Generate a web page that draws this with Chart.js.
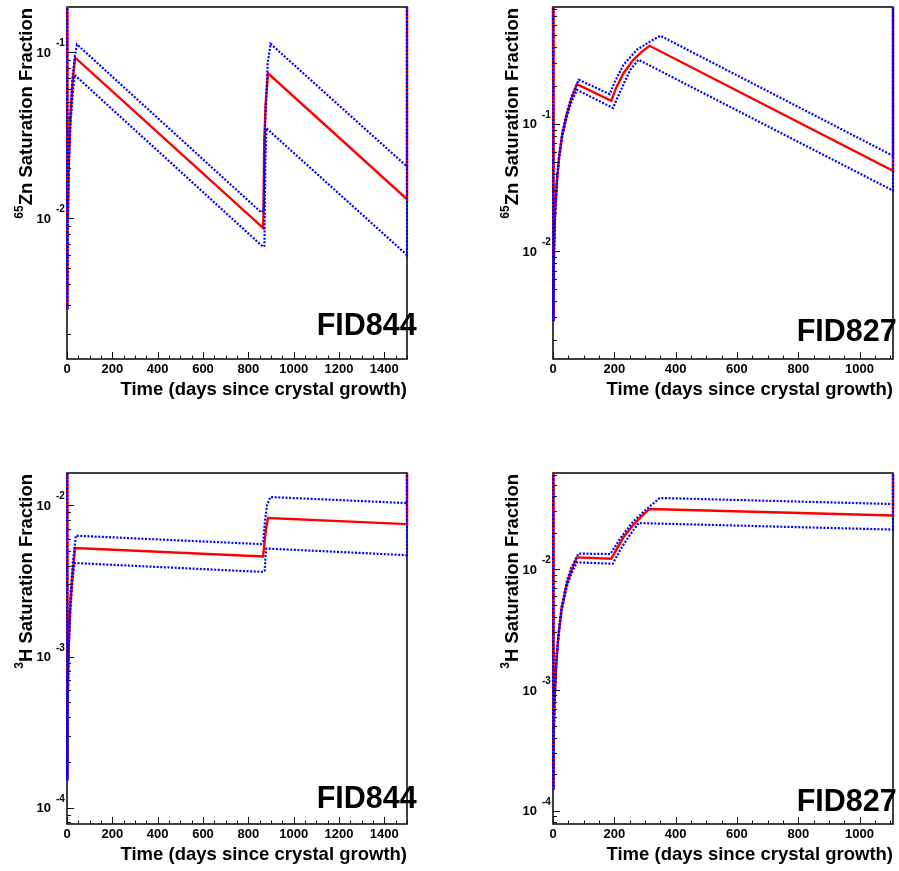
<!DOCTYPE html>
<html><head><meta charset="utf-8">
<script src="https://cdn.jsdelivr.net/npm/chart.js@4.4.1/dist/chart.umd.min.js"></script>
<style>
html,body{margin:0;padding:0;background:#fff;}
#wrap{position:relative;width:899px;height:871px;overflow:hidden;background:#fff;}
canvas{position:absolute;}
</style></head><body><div id="wrap">
<canvas id="c1" width="450" height="435" style="left:0px;top:0px"></canvas>
<canvas id="c2" width="449" height="435" style="left:450px;top:0px"></canvas>
<canvas id="c3" width="450" height="436" style="left:0px;top:435px"></canvas>
<canvas id="c4" width="449" height="436" style="left:450px;top:435px"></canvas>
</div>
<script>
// ---------- tick labels ----------
const xTicksFID844 = [0, 200, 400, 600, 800, 1000, 1200, 1400];
const xTicksFID827 = [0, 200, 400, 600, 800, 1000];
const yDecadesZn = [-2, -1];
const yDecadesH3 = [-4, -3, -2];

// ---------- FID844, 65Zn ----------
const fid844ZnDays      = [0, 1, 3, 8, 15, 25, 36, 866, 870, 876, 887, 1500, 1500];
const fid844ZnFraction  = [1, 0.0028, 0.0085, 0.022, 0.040, 0.066, 0.0924, 0.0087, 0.028, 0.048, 0.0744, 0.01297, 1];
const fid844ZnUpperDays = [0, 1, 3, 8, 15, 25, 35, 44, 857, 868, 872, 885, 898, 1500, 1500];
const fid844ZnUpper     = [1, 0.0028, 0.0088, 0.024, 0.044, 0.072, 0.095, 0.111, 0.0108, 0.0112, 0.030, 0.085, 0.112, 0.0204, 1];
const fid844ZnLowerDays = [0, 1, 3, 8, 15, 25, 34, 865, 871, 875, 880, 1500, 1500];
const fid844ZnLower     = [1, 0.0028, 0.0075, 0.019, 0.036, 0.055, 0.0726, 0.0067, 0.0068, 0.022, 0.0347, 0.00598, 1];

// ---------- FID827, 65Zn ----------
const fid827ZnDays      = [0, 1, 3, 7, 13, 20, 30, 45, 60, 78, 190, 205, 230, 260, 290, 315, 1109, 1109];
const fid827ZnFraction  = [1, 0.0028, 0.0085, 0.020, 0.036, 0.055, 0.082, 0.118, 0.157, 0.2054, 0.1517, 0.19, 0.25, 0.315, 0.37, 0.411, 0.0426, 1];
const fid827ZnUpperDays = [0, 1, 3, 7, 13, 20, 30, 45, 60, 84, 185, 200, 230, 274, 317, 350, 1109, 1109];
const fid827ZnUpper     = [1, 0.0028, 0.0086, 0.021, 0.037, 0.057, 0.085, 0.123, 0.163, 0.222, 0.171, 0.21, 0.292, 0.383, 0.445, 0.493, 0.056, 1];
const fid827ZnLowerDays = [0, 1, 3, 7, 13, 20, 30, 45, 60, 78, 196, 210, 230, 252, 279, 1109, 1109];
const fid827ZnLower     = [1, 0.0028, 0.0084, 0.020, 0.035, 0.053, 0.079, 0.113, 0.148, 0.185, 0.133, 0.16, 0.205, 0.266, 0.319, 0.0298, 1];

// ---------- FID844, 3H ----------
const fid844H3Days      = [0, 1, 3, 8, 15, 25, 36, 865, 870, 878, 887, 1500, 1500];
const fid844H3Fraction  = [1, 1.55e-4, 4.6e-4, 1.2e-3, 2.2e-3, 3.6e-3, 5.23e-3, 4.59e-3, 5.4e-3, 7.0e-3, 8.26e-3, 7.53e-3, 1];
const fid844H3UpperDays = [0, 1, 3, 8, 15, 25, 39, 856, 866, 872, 882, 897, 1500, 1500];
const fid844H3Upper     = [1, 1.5e-4, 4.8e-4, 1.3e-3, 2.5e-3, 4.1e-3, 6.31e-3, 5.55e-3, 5.8e-3, 7.5e-3, 1.0e-2, 1.137e-2, 1.037e-2, 1];
const fid844H3LowerDays = [0, 1, 3, 8, 15, 25, 33, 867, 872, 876, 880, 1500, 1500];
const fid844H3Lower     = [1, 1.5e-4, 4.4e-4, 1.15e-3, 2.1e-3, 3.3e-3, 4.16e-3, 3.63e-3, 3.7e-3, 4.6e-3, 5.19e-3, 4.69e-3, 1];

// ---------- FID827, 3H ----------
const fid827H3Days      = [0, 1, 3, 6, 11, 18, 28, 45, 60, 78, 190, 230, 260, 290, 315, 1109, 1109];
const fid827H3Fraction  = [1, 1.5e-4, 4.6e-4, 9.3e-4, 1.7e-3, 2.85e-3, 4.7e-3, 7.5e-3, 9.7e-3, 1.248e-2, 1.217e-2, 1.83e-2, 2.29e-2, 2.75e-2, 3.14e-2, 2.77e-2, 1];
const fid827H3UpperDays = [0, 1, 3, 6, 11, 18, 28, 45, 60, 83, 187, 220, 260, 300, 348, 1109, 1109];
const fid827H3Upper     = [1, 1.5e-4, 4.7e-4, 9.5e-4, 1.75e-3, 2.95e-3, 4.9e-3, 7.9e-3, 1.03e-2, 1.341e-2, 1.33e-2, 1.8e-2, 2.45e-2, 3.05e-2, 3.87e-2, 3.45e-2, 1];
const fid827H3LowerDays = [0, 1, 3, 6, 11, 18, 28, 45, 60, 78, 195, 220, 250, 279, 1109, 1109];
const fid827H3Lower     = [1, 1.5e-4, 4.5e-4, 9.1e-4, 1.65e-3, 2.75e-3, 4.5e-3, 7.1e-3, 9.2e-3, 1.136e-2, 1.106e-2, 1.45e-2, 1.9e-2, 2.4e-2, 2.12e-2, 1];

// ---------- panel layout ----------
const FONT = "'Liberation Sans', Arial, Helvetica, sans-serif";
const panels = [
  { id: 'c1', sup: '65', title: 'Zn Saturation Fraction', label: 'FID844', xMax: 1500, yMin: 1.415e-3, yMax: 0.1866,
    xTicks: xTicksFID844, decades: yDecadesZn, pad: { left: 67, top: 7, right: 43, bottom: 76 }, labelPos: [416.7, 335],
    series: [[fid844ZnDays, fid844ZnFraction], [fid844ZnUpperDays, fid844ZnUpper], [fid844ZnLowerDays, fid844ZnLower]] },
  { id: 'c2', sup: '65', title: 'Zn Saturation Fraction', label: 'FID827', xMax: 1109, yMin: 1.41e-3, yMax: 0.83,
    xTicks: xTicksFID827, decades: yDecadesZn, pad: { left: 103, top: 7, right: 6, bottom: 76 }, labelPos: [446.7, 340.7],
    series: [[fid827ZnDays, fid827ZnFraction], [fid827ZnUpperDays, fid827ZnUpper], [fid827ZnLowerDays, fid827ZnLower]] },
  { id: 'c3', sup: '3', title: 'H Saturation Fraction', label: 'FID844', xMax: 1500, yMin: 7.8e-5, yMax: 0.0164,
    xTicks: xTicksFID844, decades: yDecadesH3, pad: { left: 67, top: 38, right: 43, bottom: 47 }, labelPos: [416.7, 372.7],
    series: [[fid844H3Days, fid844H3Fraction], [fid844H3UpperDays, fid844H3Upper], [fid844H3LowerDays, fid844H3Lower]] },
  { id: 'c4', sup: '3', title: 'H Saturation Fraction', label: 'FID827', xMax: 1109, yMin: 7.76e-5, yMax: 0.0623,
    xTicks: xTicksFID827, decades: yDecadesH3, pad: { left: 103, top: 38, right: 6, bottom: 47 }, labelPos: [446.7, 376],
    series: [[fid827H3Days, fid827H3Fraction], [fid827H3UpperDays, fid827H3Upper], [fid827H3LowerDays, fid827H3Lower]] }
];

const framePlugin = {
  id: 'frame',
  beforeDatasetsDraw(chart) {
    const { ctx, chartArea: a } = chart;
    ctx.save();
    ctx.strokeStyle = '#111';
    ctx.lineWidth = 1.6;
    ctx.strokeRect(a.left, a.top, a.right - a.left, a.bottom - a.top);
    ctx.restore();
  }
};

const decorPlugin = {
  id: 'decor',
  afterDraw(chart) {
    const p = chart.options.plugins.decor.panel;
    const { ctx, chartArea: a, scales: { x, y } } = chart;
    ctx.save();
    ctx.strokeStyle = '#111';
    ctx.lineWidth = 1;
    ctx.beginPath();
    for (let v = 0; v <= p.xMax + 1e-9; v += 50) {
      const px = Math.round(x.getPixelForValue(v)) + 0.5;
      const len = (v % 200 === 0) ? 7 : 3.5;
      ctx.moveTo(px, a.bottom);
      ctx.lineTo(px, a.bottom - len);
    }
    const d0 = Math.floor(Math.log10(p.yMin)), d1 = Math.ceil(Math.log10(p.yMax));
    for (let d = d0; d <= d1; d++) {
      for (let m = 1; m <= 9; m++) {
        const v = m * Math.pow(10, d);
        if (v < p.yMin || v > p.yMax) continue;
        const py = Math.round(y.getPixelForValue(v)) + 0.5;
        const len = m === 1 ? 7 : 4;
        ctx.moveTo(a.left, py);
        ctx.lineTo(a.left + len, py);
      }
    }
    ctx.stroke();

    ctx.fillStyle = '#000';
    ctx.font = 'bold 13px ' + FONT;
    ctx.textAlign = 'center';
    ctx.textBaseline = 'alphabetic';
    p.xTicks.forEach(v => {
      ctx.fillText(String(v), x.getPixelForValue(v), a.bottom + 14.3);
    });
    p.decades.forEach(d => {
      const py = y.getPixelForValue(Math.pow(10, d));
      ctx.font = 'bold 13px ' + FONT;
      ctx.textAlign = 'right';
      ctx.fillText('10', a.left - 16, py + 4.7);
      ctx.font = 'bold 10px ' + FONT;
      ctx.textAlign = 'left';
      ctx.fillText('-' + Math.abs(d), a.left - 11, py - 6);
    });
    ctx.font = 'bold 18.5px ' + FONT;
    ctx.textAlign = 'right';
    ctx.fillText('Time (days since crystal growth)', a.right, a.bottom + 36);
    ctx.save();
    ctx.translate(a.left - 35, a.top + 1);
    ctx.rotate(-Math.PI / 2);
    ctx.font = 'bold 18.5px ' + FONT;
    ctx.textAlign = 'right';
    const mainW = ctx.measureText(p.title).width;
    ctx.fillText(p.title, 0, 0);
    ctx.font = 'bold 12px ' + FONT;
    ctx.fillText(p.sup, -mainW, -9);
    ctx.restore();
    ctx.font = 'bold 30.5px ' + FONT;
    ctx.textAlign = 'right';
    ctx.fillText(p.label, p.labelPos[0], p.labelPos[1]);
    ctx.restore();
  }
};

const styles = [
  { borderColor: '#ff0000', borderWidth: 2.4, borderDash: [], order: 1 },
  { borderColor: '#0000ff', borderWidth: 2.2, borderDash: [2, 1.6], order: 0 },
  { borderColor: '#0000ff', borderWidth: 2.2, borderDash: [2, 1.6], order: 0 }
];

panels.forEach(p => {
  const datasets = p.series.map((s, i) => Object.assign({
    data: s[0].map((d, k) => ({ x: d, y: s[1][k] })),
    pointRadius: 0,
    tension: 0,
    fill: false,
    clip: { left: 2, right: 2, top: 0, bottom: 0 }
  }, styles[i]));
  new Chart(document.getElementById(p.id), {
    type: 'line',
    data: { datasets },
    options: {
      responsive: false,
      animation: false,
      devicePixelRatio: 1,
      layout: { padding: p.pad },
      scales: {
        x: { type: 'linear', min: 0, max: p.xMax, display: false },
        y: { type: 'logarithmic', min: p.yMin, max: p.yMax, display: false }
      },
      plugins: { legend: { display: false }, tooltip: { enabled: false }, title: { display: false }, decor: { panel: p } },
      events: []
    },
    plugins: [framePlugin, decorPlugin]
  });
});
</script>
</body></html>
